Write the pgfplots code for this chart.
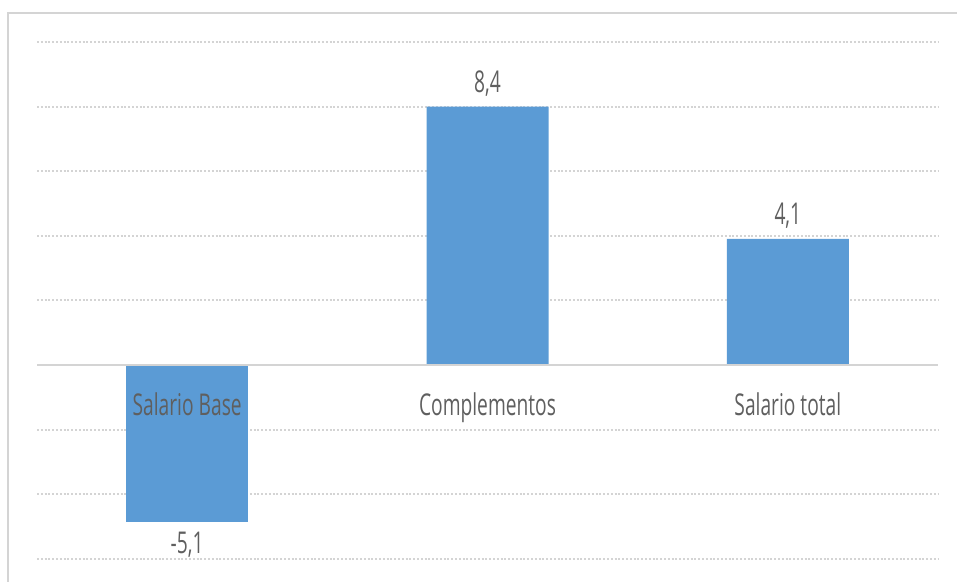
\documentclass[border=0pt]{standalone}
\usepackage{pgfplots}
\pgfplotsset{compat=1.18}
\usepackage{fontspec}
\setmainfont{Open Sans}[FakeStretch=0.64]
\definecolor{barblue}{HTML}{5B9BD5}
\definecolor{txtgray}{HTML}{5F5F5F}
\definecolor{gridgray}{HTML}{D4D4D4}
\begin{document}
\begin{tikzpicture}[x=1pt,y=1pt]
\useasboundingbox (0,0) rectangle (957,581);
\draw[gridgray, line width=2.5pt] (8,-20) -- (8,568) -- (990,568);
\begin{axis}[at={(37pt,22pt)}, anchor=south west, scale only axis,
  width=901pt, height=517pt,
  xmin=-0.5, xmax=2.5, ymin=-6.3, ymax=10.5,
  ytick={-6.3,-4.2,-2.1,2.1,4.2,6.3,8.4,10.5}, yticklabels={}, xtick=\empty,
  ymajorgrids, grid style={gridgray, line width=2pt, dash pattern=on 1.9pt off 1.9pt},
  axis line style={draw=none}, major tick length=0pt,
  ybar, bar width=122pt, bar shift=0pt,
  nodes near coords, point meta=explicit symbolic,
  every node near coord/.append style={font=\fontsize{30}{34}\selectfont, text=txtgray, inner sep=10pt},
  clip=false,
]
\addplot[fill=barblue, draw=none, bar shift=0pt] coordinates {(1,8.4) [8,4] (2,4.1) [4,1]};
\addplot[fill=barblue, draw=none, bar shift=0pt,
  every node near coord/.append style={anchor=north}] coordinates {(0,-5.1) [-5,1]};
\draw[gridgray, line width=2pt] (axis cs:-0.5,0) -- (axis cs:2.5,0);
\node[anchor=base, text=txtgray, font=\fontsize{30}{34}\selectfont, yshift=-50pt] at (axis cs:0,0) {Salario Base};
\node[anchor=base, text=txtgray, font=\fontsize{30}{34}\selectfont, yshift=-50pt] at (axis cs:1,0) {Complementos};
\node[anchor=base, text=txtgray, font=\fontsize{30}{34}\selectfont, yshift=-50pt] at (axis cs:2,0) {Salario total};
\end{axis}
\end{tikzpicture}
\end{document}
